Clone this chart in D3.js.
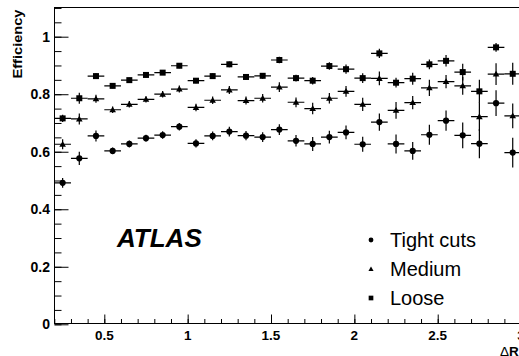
<!DOCTYPE html>
<html><head><meta charset="utf-8">
<script src="https://cdn.jsdelivr.net/npm/d3@7"></script>
<style>body{margin:0;background:#fff}svg{display:block}text{font-family:"Liberation Sans",Arial,Helvetica,sans-serif}</style>
</head><body>
<script>
const binCenters = [0.25,0.35,0.45,0.55,0.65,0.75,0.85,0.95,1.05,1.15,1.25,1.35,1.45,1.55,1.65,1.75,1.85,1.95,2.05,2.15,2.25,2.35,2.45,2.55,2.65,2.75,2.85,2.95];
const binHalfWidth = 0.05;
const tightValues = [0.492,0.577,0.655,0.603,0.627,0.647,0.658,0.687,0.629,0.655,0.670,0.656,0.651,0.677,0.638,0.627,0.651,0.667,0.626,0.703,0.627,0.603,0.659,0.708,0.657,0.628,0.769,0.597];
const tightErrors = [0.017,0.023,0.019,0.012,0.012,0.012,0.013,0.013,0.014,0.015,0.017,0.016,0.017,0.019,0.020,0.024,0.022,0.024,0.026,0.030,0.033,0.031,0.035,0.035,0.045,0.051,0.045,0.052];
const mediumValues = [0.626,0.714,0.784,0.746,0.765,0.782,0.800,0.818,0.754,0.779,0.815,0.778,0.786,0.825,0.772,0.750,0.786,0.810,0.765,0.855,0.744,0.771,0.822,0.844,0.829,0.722,0.870,0.725];
const mediumErrors = [0.017,0.019,0.014,0.011,0.011,0.011,0.011,0.012,0.013,0.013,0.014,0.014,0.015,0.017,0.017,0.020,0.018,0.019,0.023,0.024,0.029,0.023,0.028,0.023,0.031,0.050,0.038,0.043];
const looseValues = [0.716,0.786,0.863,0.829,0.849,0.867,0.875,0.899,0.847,0.863,0.904,0.860,0.864,0.919,0.856,0.847,0.898,0.887,0.856,0.942,0.840,0.854,0.904,0.916,0.877,0.810,0.963,0.871];
const looseErrors = [0.013,0.019,0.010,0.008,0.008,0.008,0.008,0.009,0.009,0.009,0.010,0.010,0.010,0.011,0.012,0.013,0.013,0.016,0.017,0.016,0.017,0.021,0.017,0.020,0.029,0.040,0.015,0.038];
const seriesNames = ["Tight cuts","Medium","Loose"];
const seriesMarkers = ["circle","triangle","square"];
const yTickLabels = ["0","0.2","0.4","0.6","0.8","1"];
const xTickLabels = ["0.5","1","1.5","2","2.5","3"];
const xTitle = "R";
const yTitle = "Efficiency";
const annotation = "ATLAS";

const W = 519, H = 356;
const svg = d3.select("body").append("svg").attr("width", W).attr("height", H);

const x = d3.scaleLinear().domain([0.2, 3.2]).range([54.3, 54.3 + 3.0*166.7]);
const y = d3.scaleLinear().domain([0, 1.1]).range([324.3, 324.3 - 1.1*287.6]);

const [x0, x1] = x.range();
const [yb, yt] = y.range();

// frame
svg.append("rect").attr("x", Math.round(x0)+0.5).attr("y", Math.round(yt)-0.5)
  .attr("width", x1 - x0).attr("height", Math.round(yb) - Math.round(yt))
  .attr("fill","none").attr("stroke","#000").attr("stroke-width",1);

// y axis ticks
const yMajor = d3.range(0, 1.1 + 1e-9, 0.2);
const yMinor = d3.range(0, 1.1 + 1e-9, 0.05);
const yAxisMinor = d3.axisRight(y).tickValues(yMinor).tickSize(7).tickFormat("");
const yAxisMajor = d3.axisRight(y).tickValues(yMajor).tickSize(14).tickFormat("");
[yAxisMinor, yAxisMajor].forEach(ax => {
  const g = svg.append("g").attr("transform", `translate(${Math.round(x0)+0.5},0)`).call(ax);
  g.select(".domain").remove();
  g.selectAll("line").attr("stroke","#000").attr("stroke-width",1);
});
svg.append("g").selectAll("text").data(yMajor).join("text")
  .attr("x", 50).attr("y", d => y(d) + 5)
  .attr("text-anchor","end").attr("font-size", 14).attr("font-weight","bold")
  .text((d,i) => yTickLabels[i]);

// x axis ticks
const xMajor = d3.range(0.5, 3.01, 0.5);
const xMinor = d3.range(0.2, 3.2, 0.1);
const xAxisMinor = d3.axisTop(x).tickValues(xMinor).tickSize(4.5).tickFormat("");
const xAxisMajor = d3.axisTop(x).tickValues(xMajor).tickSize(9).tickFormat("");
[xAxisMinor, xAxisMajor].forEach(ax => {
  const g = svg.append("g").attr("transform", `translate(0,${Math.round(yb)-0.5})`).call(ax);
  g.select(".domain").remove();
  g.selectAll("line").attr("stroke","#000").attr("stroke-width",1);
});
svg.append("g").selectAll("text").data(xMajor).join("text")
  .attr("x", d => x(d)).attr("y", 339.5)
  .attr("text-anchor","middle").attr("font-size", 13.5).attr("font-weight","bold")
  .text((d,i) => xTickLabels[i]);

// titles
svg.append("text").attr("transform","translate(21.5,9.5) rotate(-90)")
  .attr("text-anchor","end").attr("font-size",13).attr("font-weight","bold")
  .attr("textLength",69).attr("lengthAdjust","spacingAndGlyphs").text(yTitle);
const xt = svg.append("text").attr("x",500).attr("y",355.5).attr("font-size",13.5);
xt.append("tspan").text("\u0394");
xt.append("tspan").attr("font-weight","bold").text(xTitle);

svg.append("text").attr("x",117).attr("y",247).attr("font-size",26)
  .attr("font-weight","bold").attr("font-style","italic").text(annotation);

// data
const series = [
  {vals: tightValues, errs: tightErrors, marker: seriesMarkers[0]},
  {vals: mediumValues, errs: mediumErrors, marker: seriesMarkers[1]},
  {vals: looseValues, errs: looseErrors, marker: seriesMarkers[2]}
];
svg.append("clipPath").attr("id","pc").append("rect")
  .attr("x", x0).attr("y", yt).attr("width", x1-x0).attr("height", yb-yt);
const plot = svg.append("g").attr("clip-path","url(#pc)");

function drawMarker(g, type, cx, cy, s) {
  if (type === "circle") g.append("circle").attr("cx",cx).attr("cy",cy).attr("r",3.1*s).attr("fill","#000");
  else if (type === "square") g.append("rect").attr("x",cx-3*s).attr("y",cy-3*s).attr("width",6*s).attr("height",6*s).attr("fill","#000");
  else {
    const a = 3.3*s;
    g.append("path").attr("d",`M${cx},${cy-a}L${cx+a},${cy+a*0.75}L${cx-a},${cy+a*0.75}Z`).attr("fill","#000");
  }
}

series.forEach(s => {
  const g = plot.append("g");
  binCenters.forEach((c,i) => {
    g.append("line").attr("x1", x(c-binHalfWidth)).attr("x2", x(c+binHalfWidth))
      .attr("y1", y(s.vals[i])).attr("y2", y(s.vals[i])).attr("stroke","#000").attr("stroke-width",1.2);
    g.append("line").attr("x1", x(c)).attr("x2", x(c))
      .attr("y1", y(s.vals[i]-s.errs[i])).attr("y2", y(s.vals[i]+s.errs[i])).attr("stroke","#000").attr("stroke-width",1.2);
  });
});
series.forEach(s => {
  const g = plot.append("g");
  binCenters.forEach((c,i) => drawMarker(g, s.marker, x(c), y(s.vals[i]), 1));
});

// legend
const legY = [240, 269, 298];
const lg = svg.append("g");
seriesNames.forEach((n,i) => {
  drawMarker(lg, seriesMarkers[i], 371, legY[i], 0.78);
  lg.append("text").attr("x",390).attr("y",legY[i]+7).attr("font-size",20).text(n);
});
</script>
</body></html>
